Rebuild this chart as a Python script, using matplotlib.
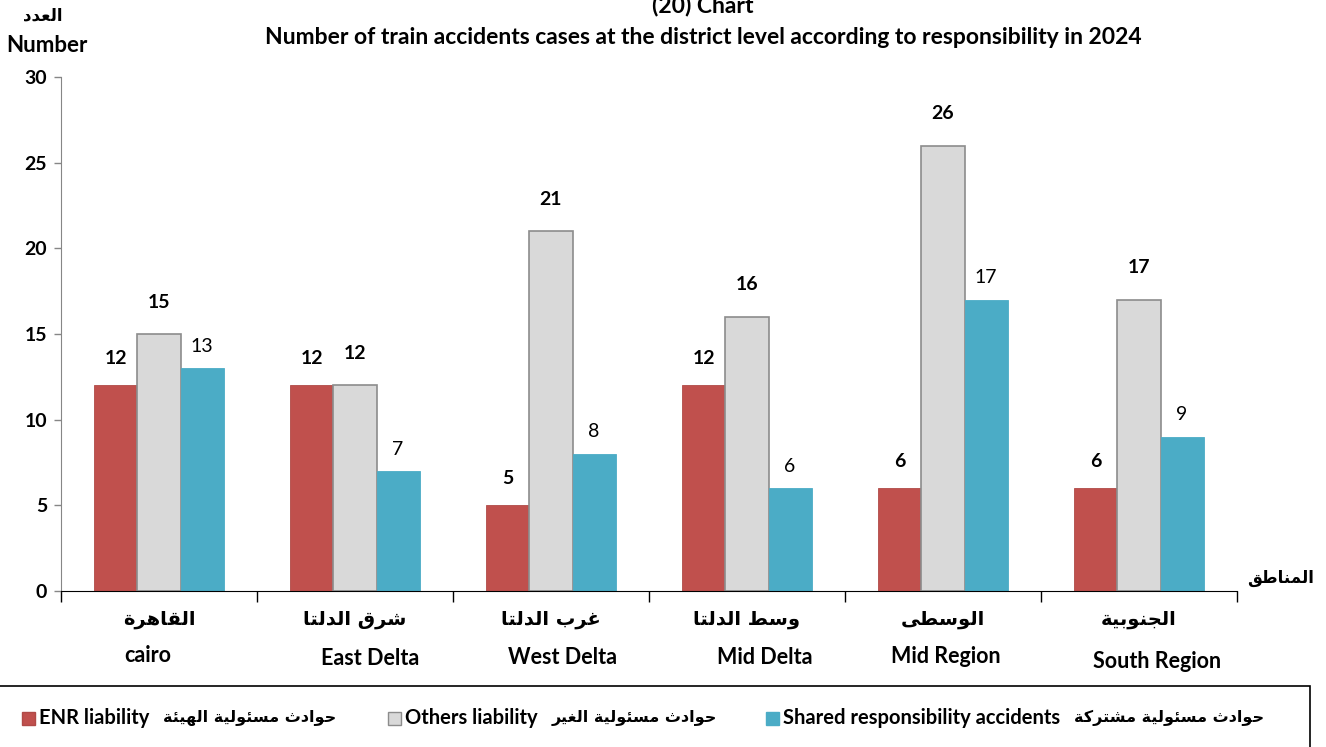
import numpy as np
import matplotlib.pyplot as plt
from matplotlib.patches import Rectangle

# data
regions_ar = ["القاهرة", "شرق الدلتا", "غرب الدلتا", "وسط الدلتا", "الوسطى", "الجنوبية"]
regions_en = ["cairo", "East Delta", "West Delta", "Mid Delta", "Mid Region", "South Region"]
enr = [12, 12, 5, 12, 6, 6]
others = [15, 12, 21, 16, 26, 17]
shared = [13, 7, 8, 6, 17, 9]
series_en = ["ENR liability", "Others liability", "Shared responsibility accidents"]
series_ar = ["حوادث مسئولية الهيئة", "حوادث مسئولية الغير", "حوادث مسئولية مشتركة"]
yticks = [0, 5, 10, 15, 20, 25, 30]

colors = ["#C0504D", "#D9D9D9", "#4BACC6"]
edges = ["#B04A47", "#8C8C8C", "#4BACC6"]

# small arabic shaper (matplotlib draws no joined forms by itself)
_letters = [('ء', 0xFE80, 1), ('آ', 0xFE81, 2), ('أ', 0xFE83, 2), ('ؤ', 0xFE85, 2),
            ('إ', 0xFE87, 2), ('ئ', 0xFE89, 4), ('ا', 0xFE8D, 2), ('ب', 0xFE8F, 4),
            ('ة', 0xFE93, 2), ('ت', 0xFE95, 4), ('ث', 0xFE99, 4), ('ج', 0xFE9D, 4),
            ('ح', 0xFEA1, 4), ('خ', 0xFEA5, 4), ('د', 0xFEA9, 2), ('ذ', 0xFEAB, 2),
            ('ر', 0xFEAD, 2), ('ز', 0xFEAF, 2), ('س', 0xFEB1, 4), ('ش', 0xFEB5, 4),
            ('ص', 0xFEB9, 4), ('ض', 0xFEBD, 4), ('ط', 0xFEC1, 4), ('ظ', 0xFEC5, 4),
            ('ع', 0xFEC9, 4), ('غ', 0xFECD, 4), ('ف', 0xFED1, 4), ('ق', 0xFED5, 4),
            ('ك', 0xFED9, 4), ('ل', 0xFEDD, 4), ('م', 0xFEE1, 4), ('ن', 0xFEE5, 4),
            ('ه', 0xFEE9, 4), ('و', 0xFEED, 2), ('ى', 0xFEEF, 2), ('ي', 0xFEF1, 4)]
FORMS = {c: (b, n) for c, b, n in _letters}


def ar(s):
    out = []
    for i, c in enumerate(s):
        if c not in FORMS:
            out.append(c)
            continue
        base, n = FORMS[c]
        prev = s[i - 1] if i > 0 else ''
        nxt = s[i + 1] if i + 1 < len(s) else ''
        jp = prev in FORMS and FORMS[prev][1] == 4
        jn = n == 4 and nxt in FORMS
        if n == 1:
            f = 0
        elif jp and jn:
            f = 3
        elif jp:
            f = 1
        elif jn:
            f = 2
        else:
            f = 0
        out.append(chr(base + f))
    return ''.join(out)[::-1]


W, H = 1326, 747
FAM = ['Lato', 'DejaVu Sans']
AFAM = ['DejaVu Sans']


def px(x, y):
    return x / W, 1 - y / H


fig = plt.figure(figsize=(W / 100, H / 100), dpi=100)
ax = fig.add_axes([61 / W, 1 - 591 / H, (1237 - 61) / W, (591 - 77) / H])

x = np.arange(len(regions_en))
w = 0.22
offs = [27, 32, 22]
weights = ['bold', 'bold', 'normal']
for k, vals in enumerate([enr, others, shared]):
    xs = x + (k - 1) * w
    ax.bar(xs, vals, w, color=colors[k], edgecolor=edges[k], linewidth=1.2 if k == 1 else 0.6)
    for xi, v in zip(xs, vals):
        ax.annotate(str(v), (xi, v), xytext=(0, offs[k]), textcoords='offset pixels',
                    ha='center', va='center', fontsize=14, fontweight=weights[k],
                    family=FAM)

ax.set_xlim(-0.5, len(regions_en) - 0.5)
ax.set_ylim(0, 30)
ax.set_yticks(yticks)
ax.set_yticklabels([str(t) for t in yticks], fontsize=14, fontweight='bold', family=FAM)
ax.set_xticks(np.arange(-0.5, len(regions_en), 1))
ax.set_xticklabels([])
ax.tick_params(axis='y', length=5, width=1, color='#868686', pad=5)
ax.tick_params(axis='x', length=8, width=1, color='black')
for s in ['top', 'right']:
    ax.spines[s].set_visible(False)
ax.spines['left'].set_color('#868686')
ax.spines['bottom'].set_color('black')

# category labels (english lines sit a little off centre in the original)
en_dx = [-11, 15, 11, 18, 3, 18]
en_dy = [0, 3, 2, 2, 1, 6]
for i in range(len(regions_en)):
    ax.text(i, -0.055, ar(regions_ar[i]), transform=ax.get_xaxis_transform(),
            ha='center', va='center', fontsize=14, fontweight='bold', family=AFAM)
    ax.annotate(regions_en[i], (i, -0.126), xycoords=ax.get_xaxis_transform(),
                xytext=(en_dx[i], -en_dy[i]), textcoords='offset pixels',
                ha='center', va='center', fontsize=15.5, fontweight='bold', family=FAM,
                annotation_clip=False)

# titles
fig.text(*px(703, 5), "(20) Chart", ha='center', va='center', fontsize=16.5,
         fontweight='bold', family=FAM)
fig.text(*px(703, 38), "Number of train accidents cases at the district level according to responsibility in 2024",
         ha='center', va='center', fontsize=16.5, fontweight='bold', family=FAM)
fig.text(*px(43, 15), ar("العدد"), ha='center', va='center', fontsize=12,
         fontweight='bold', family=AFAM)
fig.text(*px(47, 46), "Number", ha='center', va='center', fontsize=16,
         fontweight='bold', family=FAM)
fig.text(*px(1281, 578), ar("المناطق"), ha='center', va='center', fontsize=12,
         fontweight='bold', family=AFAM)

# legend box
fig.add_artist(Rectangle(px(-5, 770), 1315 / W, 84 / H, transform=fig.transFigure,
                         fill=False, edgecolor='black', linewidth=1.2))
leg_sq = [22, 388, 766]
fig.canvas.draw()
renderer = fig.canvas.get_renderer()
for k in range(3):
    fig.add_artist(Rectangle(px(leg_sq[k], 725), 13 / W, 13 / H, transform=fig.transFigure,
                             facecolor=colors[k], edgecolor=edges[k], linewidth=1))
    t = fig.text(*px(leg_sq[k] + 17, 718), series_en[k], ha='left', va='center',
                 fontsize=14.5, fontweight='bold', family=FAM)
    x_end = t.get_window_extent(renderer).x1
    fig.text(*px(x_end + 14, 718), ar(series_ar[k]), ha='left', va='center',
             fontsize=11.5, fontweight='bold', family=AFAM)

fig.savefig("out.png", dpi=100)
